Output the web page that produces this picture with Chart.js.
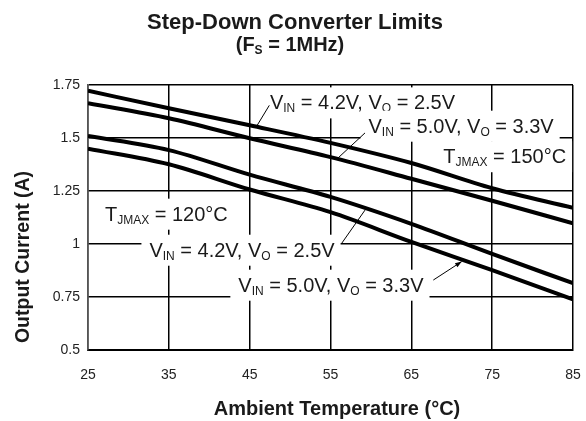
<!DOCTYPE html>
<html>
<head>
<meta charset="utf-8">
<script src="https://cdn.jsdelivr.net/npm/chart.js@4.4.1/dist/chart.umd.min.js"></script>
<style>
body{margin:0;background:#fff;}
#canvas{display:block;}
</style>
</head>
<body>
<canvas id="canvas" width="586" height="421"></canvas>
<script>
var temps = [25, 35, 45, 55, 65, 75, 85];
var xTickLabels = ["25", "35", "45", "55", "65", "75", "85"];
var yTicks = [0.5, 0.75, 1, 1.25, 1.5, 1.75];
var yTickLabels = ["0.5", "0.75", "1", "1.25", "1.5", "1.75"];

var vin42_150 = [1.723, 1.640, 1.560, 1.477, 1.382, 1.263, 1.171];
var vin50_150 = [1.664, 1.593, 1.499, 1.410, 1.308, 1.204, 1.098];
var vin42_120 = [1.510, 1.443, 1.327, 1.222, 1.095, 0.953, 0.815];
var vin50_120 = [1.450, 1.376, 1.257, 1.150, 1.010, 0.877, 0.739];

var FONT = '"Liberation Sans", Arial, sans-serif';
var INK = '#1a1a1a';

// text notes: left edge and baseline in data units, [text, isSubscript]
var notes = [
	{x:47.5, y:1.635, parts:[["V"],["IN",1],[" = 4.2V, "],["V"],["O",1],[" = 2.5V"]]},
	{x:59.7, y:1.525, parts:[["V"],["IN",1],[" = 5.0V, "],["V"],["O",1],[" = 3.3V"]]},
	{x:68.95, y:1.381, parts:[["T"],["JMAX",1],[" = 150°C"]]},
	{x:27.1, y:1.110, parts:[["T"],["JMAX",1],[" = 120°C"]]},
	{x:32.6, y:0.940, parts:[["V"],["IN",1],[" = 4.2V, "],["V"],["O",1],[" = 2.5V"]]},
	{x:43.6, y:0.775, parts:[["V"],["IN",1],[" = 5.0V, "],["V"],["O",1],[" = 3.3V"]]}
];
// leader lines: first point on the curve, second near the text
var leaders = [
	{a:[45.87, 1.556], b:[47.43, 1.654]},
	{a:[55.77, 1.400], b:[59.27, 1.524]},
	{a:[59.27, 1.160], b:[56.38, 1.003]},
	{a:[71.23, 0.917], b:[67.72, 0.830], arrow:true}
];

function series(vals){
	var pts = [];
	for(var i = 0; i < temps.length; i++){
		pts.push({x:temps[i], y:vals[i]});
	}
	return pts;
}

function makeSet(vals){
	return {
		data:series(vals),
		borderColor:'#000',
		borderWidth:4,
		pointRadius:0,
		fill:false,
		cubicInterpolationMode:'monotone'
	};
}

function partsWidth(ctx, parts, size, bold){
	var w = 0;
	for(var i = 0; i < parts.length; i++){
		var s = parts[i][1] ? Math.round(size*0.6) : size;
		ctx.font = (bold ? 'bold ' : '') + s + 'px ' + FONT;
		w += ctx.measureText(parts[i][0]).width;
	}
	return w;
}

function drawParts(ctx, parts, x, y, size, bold){
	var w = 0;
	ctx.textBaseline = 'alphabetic';
	ctx.textAlign = 'left';
	for(var i = 0; i < parts.length; i++){
		var sub = parts[i][1];
		var s = sub ? Math.round(size*0.6) : size;
		ctx.font = (bold ? 'bold ' : '') + s + 'px ' + FONT;
		ctx.fillText(parts[i][0], x + w, y + (sub ? size*0.15 : 0));
		w += ctx.measureText(parts[i][0]).width;
	}
	return w;
}

var notesPlugin = {
	id:'notes',
	beforeDatasetsDraw:function(chart){
		var ctx = chart.ctx;
		var xs = chart.scales.x, ys = chart.scales.y;
		ctx.save();
		for(var i = 0; i < notes.length; i++){
			var n = notes[i];
			var px = xs.getPixelForValue(n.x);
			var py = ys.getPixelForValue(n.y);
			var w = partsWidth(ctx, n.parts, 20, false);
			ctx.fillStyle = '#fff';
			ctx.fillRect(px - 8, py - 22, w + 14, 31);
			ctx.fillStyle = INK;
			drawParts(ctx, n.parts, px, py, 20, false);
		}
		ctx.strokeStyle = '#000';
		ctx.lineWidth = 1;
		for(var j = 0; j < leaders.length; j++){
			var l = leaders[j];
			var ax = xs.getPixelForValue(l.a[0]), ay = ys.getPixelForValue(l.a[1]);
			var bx = xs.getPixelForValue(l.b[0]), by = ys.getPixelForValue(l.b[1]);
			ctx.beginPath();
			ctx.moveTo(bx, by);
			ctx.lineTo(ax, ay);
			ctx.stroke();
			if(l.arrow){
				var ang = Math.atan2(ay - by, ax - bx);
				ctx.beginPath();
				ctx.moveTo(ax, ay);
				ctx.lineTo(ax - 7*Math.cos(ang - 0.35), ay - 7*Math.sin(ang - 0.35));
				ctx.lineTo(ax - 7*Math.cos(ang + 0.35), ay - 7*Math.sin(ang + 0.35));
				ctx.closePath();
				ctx.fillStyle = '#000';
				ctx.fill();
			}
		}
		ctx.restore();
	},
	afterDraw:function(chart){
		var ctx = chart.ctx;
		ctx.save();
		ctx.fillStyle = INK;
		ctx.textAlign = 'center';
		ctx.textBaseline = 'alphabetic';
		ctx.font = 'bold 22px ' + FONT;
		ctx.fillText('Step-Down Converter Limits', 295, 29);

		var sub = [["(F"],["S",1],[" = 1MHz)"]];
		var sw = partsWidth(ctx, sub, 20, true);
		drawParts(ctx, sub, 290 - sw/2, 51, 20, true);

		ctx.textAlign = 'center';
		ctx.font = 'bold 20px ' + FONT;
		ctx.fillText('Ambient Temperature (°C)', 337, 415);

		ctx.translate(24, 257);
		ctx.rotate(-Math.PI/2);
		ctx.textBaseline = 'middle';
		ctx.font = 'bold 19.5px ' + FONT;
		ctx.fillText('Output Current (A)', 0, 0);
		ctx.restore();
	}
};

var canvas = document.getElementById("canvas");
var ctx = canvas.getContext("2d");

var chart = new Chart(ctx, {
	type:'line',
	data:{
		datasets:[makeSet(vin42_150), makeSet(vin50_150), makeSet(vin42_120), makeSet(vin50_120)]
	},
	options:{
		responsive:false,
		animation:false,
		devicePixelRatio:1,
		layout:{padding:{top:85, right:13, bottom:0, left:0}},
		plugins:{legend:{display:false}, tooltip:{enabled:false}},
		scales:{
			x:{
				type:'linear',
				min:25, max:85,
				afterBuildTicks:function(s){
					s.ticks = temps.map(function(v){ return {value:v}; });
				},
				afterFit:function(s){
					s.height = 71;
					s.paddingLeft = 0;
					s.paddingRight = 0;
				},
				ticks:{
					padding:17,
					color:'#222',
					font:{family:FONT, size:14},
					callback:function(v, i){ return xTickLabels[i]; }
				},
				grid:{color:'#000', lineWidth:1.5, drawTicks:false},
				border:{color:'#000', width:2}
			},
			y:{
				type:'linear',
				min:0.5, max:1.75,
				afterBuildTicks:function(s){
					s.ticks = yTicks.map(function(v){ return {value:v}; });
				},
				afterFit:function(s){
					s.width = 88;
					s.paddingTop = 0;
					s.paddingBottom = 0;
				},
				ticks:{
					padding:8,
					color:'#222',
					font:{family:FONT, size:14},
					callback:function(v, i){ return yTickLabels[i]; }
				},
				grid:{color:'#000', lineWidth:1.5, drawTicks:false},
				border:{color:'#555', width:1.5}
			}
		}
	},
	plugins:[notesPlugin]
});
</script>
</body>
</html>
